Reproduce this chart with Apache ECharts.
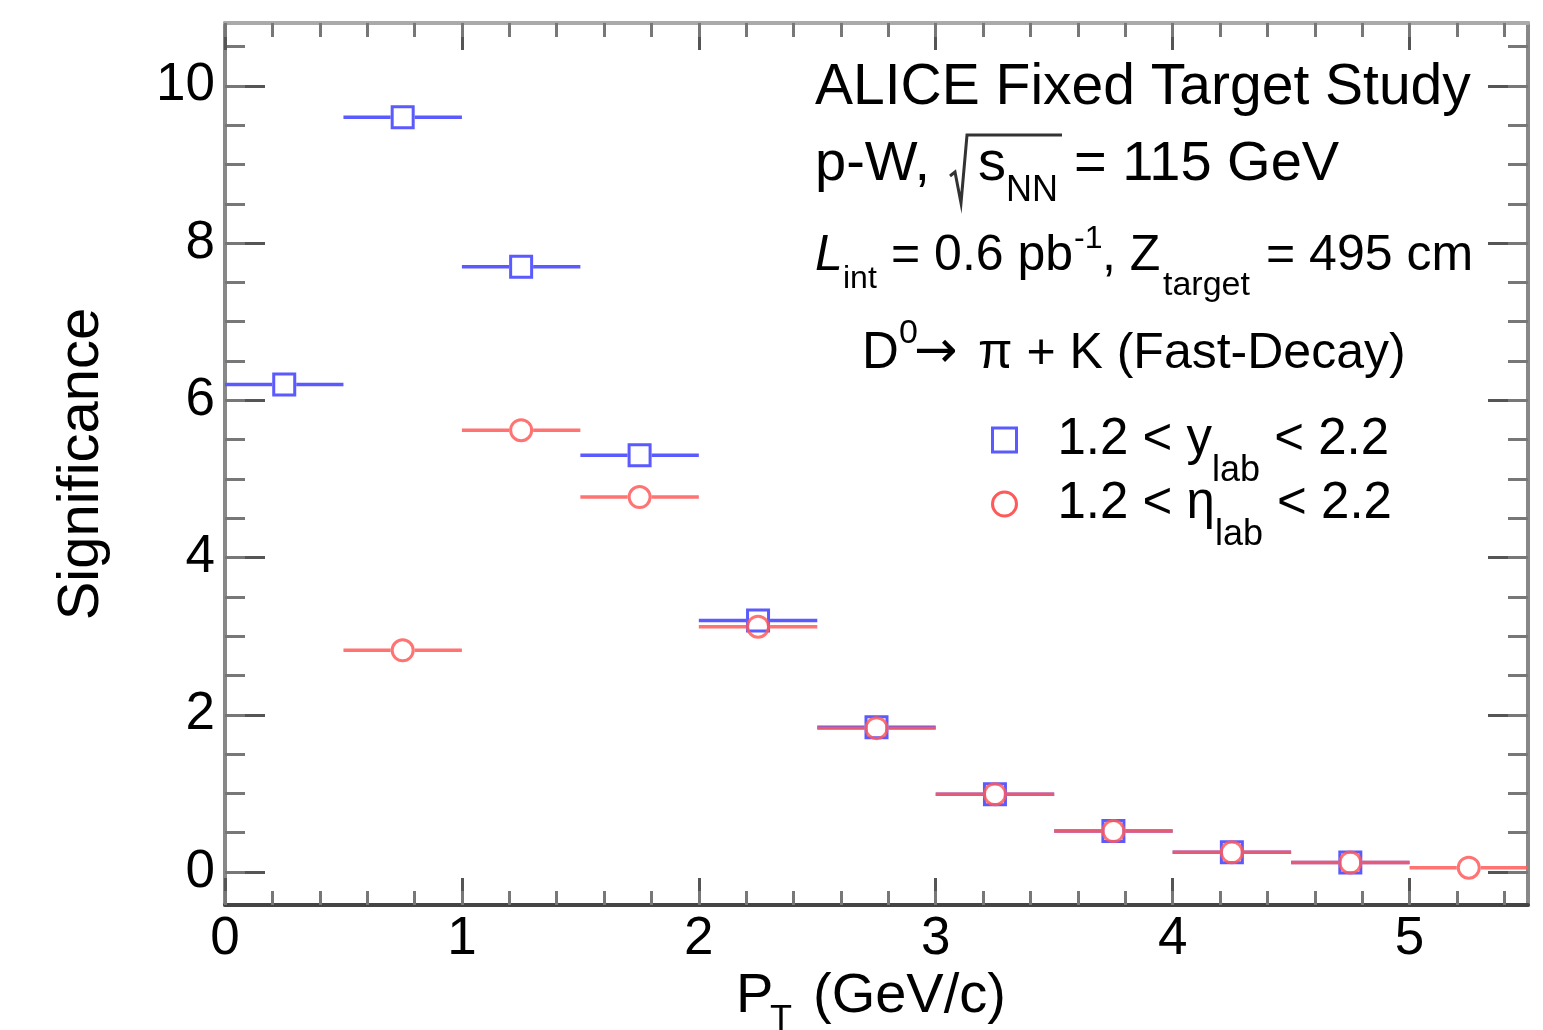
<!DOCTYPE html>
<html><head><meta charset="utf-8">
<script src="https://cdn.jsdelivr.net/npm/echarts@6/dist/echarts.min.js"></script>
<style>html,body{margin:0;padding:0;background:#fff}#c{width:1543px;height:1030px}</style>
</head><body><div id="c"></div>
<script>
// ---- data ----
const binEdges = [0, 0.5, 1, 1.5, 2, 2.5, 3, 3.5, 4, 4.5, 5, 5.5];
const sigYlab = [6.20, 9.60, 7.70, 5.30, 3.20, 1.84, 0.99, 0.52, 0.25, 0.12, null];
const sigEtalab = [null, 2.82, 5.62, 4.77, 3.12, 1.83, 0.99, 0.52, 0.25, 0.12, 0.055];
const xTickLabels = [0, 1, 2, 3, 4, 5];
const yTickLabels = [0, 2, 4, 6, 8, 10];
const xRange = [0, 5.5];
const yRange = [-0.42, 10.8];

const F = "'Liberation Sans', Arial, Helvetica, sans-serif";
const BLUE = '#5a5aff';
const RED = '#ff5a5a';

function minorVals(from, to, step) { const a = []; for (let i = 0; from + i * step <= to + 1e-9; i++) a.push(+(from + i * step).toFixed(4)); return a; }
const xMinor = minorVals(0, 5.4, 0.2);
const yMinor = minorVals(0, 10.5, 0.5);

function toBins(vals) {
  const out = [];
  vals.forEach((v, i) => { if (v != null) out.push([binEdges[i], binEdges[i + 1], v]); });
  return out;
}

function makeRender(color, shape, opacity) {
  return function (params, api) {
    const lo = api.value(0), hi = api.value(1), v = api.value(2);
    const a = api.coord([lo, v]), b = api.coord([hi, v]), c = api.coord([(lo + hi) / 2, v]);
    const r = 12;
    const ls = { stroke: color, lineWidth: 3.5, opacity: opacity };
    const kids = [
      { type: 'line', shape: { x1: a[0], y1: c[1], x2: c[0] - r, y2: c[1] }, style: ls },
      { type: 'line', shape: { x1: c[0] + r, y1: c[1], x2: b[0], y2: c[1] }, style: ls }
    ];
    if (shape === 'rect') {
      kids.push({ type: 'rect', shape: { x: c[0] - r + 1.5, y: c[1] - r + 1.5, width: 2 * r - 3, height: 2 * r - 3 },
        style: { fill: 'none', stroke: color, lineWidth: 3, opacity: opacity } });
    } else {
      kids.push({ type: 'circle', shape: { cx: c[0], cy: c[1], r: r - 1.5 },
        style: { fill: 'none', stroke: color, lineWidth: 3, opacity: opacity } });
    }
    return { type: 'group', children: kids };
  };
}

function xAx(pos, major) {
  return {
    type: 'value', position: pos, min: xRange[0], max: xRange[1],
    axisLine: { show: major, onZero: false, lineStyle: { color: pos === 'bottom' ? '#444' : '#aaa', width: 4 } },
    axisTick: { show: true, inside: true, length: major ? 27 : 14, customValues: major ? xTickLabels : xMinor,
      lineStyle: { color: major ? '#555' : '#777', width: 3 } },
    axisLabel: { show: major && pos === 'bottom', customValues: xTickLabels, margin: 8, fontSize: 53, color: '#000', fontFamily: F,
      formatter: v => String(v) },
    splitLine: { show: false }
  };
}
function yAx(pos, major) {
  const o = {
    type: 'value', position: pos, min: yRange[0], max: yRange[1],
    axisLine: { show: major, onZero: false, lineStyle: { color: '#888', width: 4 } },
    axisTick: { show: true, inside: true, length: major ? 40 : 20, customValues: major ? yTickLabels : yMinor,
      lineStyle: { color: major ? '#555' : '#777', width: 3 } },
    axisLabel: { show: major && pos === 'left', customValues: yTickLabels, margin: 10, fontSize: 53, color: '#000', fontFamily: F,
      formatter: v => String(v) },
    splitLine: { show: false }
  };
  if (major && pos === 'left') {
    o.name = 'Significance';
    o.nameLocation = 'middle';
    o.nameGap = 114;
    o.nameTextStyle = { fontSize: 58, color: '#000', fontFamily: F };
  }
  return o;
}

function txt(s, x, base, fs, italic, fam) {
  return { type: 'text', x: x, y: base - 0.33 * fs, z: 100,
    style: { text: s, font: (italic ? 'italic ' : '') + fs + 'px ' + (fam || F), fill: '#000',
      textAlign: 'left', textVerticalAlign: 'middle', align: 'left', verticalAlign: 'middle' } };
}

const graphics = [
  txt('ALICE Fixed Target Study', 815, 107, 57),
  txt('p-W,', 815, 183, 56),
  { type: 'polyline', z: 100, shape: { points: [[950, 176], [955, 172], [961, 203], [967, 135], [1062, 135]] },
    style: { stroke: '#333', lineWidth: 3, fill: null } },
  txt('s', 978, 183, 56),
  txt('NN', 1006, 203, 36),
  txt('= 115 GeV', 1074, 183, 56),
  txt('L', 815, 273, 50, true),
  txt('int', 843, 290, 32),
  txt('= 0.6 pb', 891, 273, 50),
  txt('-1', 1074, 250, 32),
  txt(', Z', 1102, 273, 50),
  txt('target', 1163, 297, 34),
  txt('= 495 cm', 1266, 273, 50),
  txt('D', 862, 371, 51),
  txt('0', 899, 345, 34),
  txt('\u2192', 914, 371, 52, false, "'DejaVu Sans', sans-serif"),
  txt('\u03c0 + K (Fast-Decay)', 978, 371, 50),
  txt('P', 736, 1015, 56),
  txt('T', 770, 1033, 36),
  txt('(GeV/c)', 813, 1015, 56)
];

const chart = echarts.init(document.getElementById('c'), null, { renderer: 'canvas' });
chart.setOption({
  backgroundColor: '#fff',
  animation: false,
  grid: { left: 225, right: 15, top: 23, bottom: 125, containLabel: false, outerBoundsMode: 'none' },
  xAxis: [xAx('bottom', true), xAx('bottom', false), xAx('top', true), xAx('top', false)],
  yAxis: [yAx('left', true), yAx('left', false), yAx('right', true), yAx('right', false)],
  legend: {
    orient: 'vertical', left: 986, top: 386, itemWidth: 24, itemHeight: 24, itemGap: -34,
    selectedMode: false,
    data: [
      { name: 'ylab', icon: 'rect', itemStyle: { color: 'rgba(0,0,0,0)', borderColor: BLUE, borderWidth: 3 } },
      { name: 'etalab', icon: 'circle', itemStyle: { color: 'rgba(0,0,0,0)', borderColor: RED, borderWidth: 3 } }
    ],
    formatter: function (name) {
      return name === 'ylab' ? '{sp| }{n|1.2 < y}{s|lab}{n| < 2.2}' : '{sp| }{n|1.2 < \u03b7}{s|lab}{n| < 2.2}';
    },
    textStyle: {
      rich: {
        sp: { width: 36, fontSize: 52, lineHeight: 60, fontFamily: F },
        n: { fontSize: 51, lineHeight: 60, fontFamily: F, color: '#000' },
        s: { fontSize: 36, lineHeight: 60, fontFamily: F, color: '#000', padding: [62, 0, 0, 0] }
      }
    }
  },
  series: [
    { name: 'ylab', type: 'custom', xAxisIndex: 0, yAxisIndex: 0, itemStyle: { color: BLUE },
      renderItem: makeRender(BLUE, 'rect', 1), data: toBins(sigYlab), encode: { x: [0, 1], y: 2 }, z: 5 },
    { name: 'etalab', type: 'custom', xAxisIndex: 0, yAxisIndex: 0, itemStyle: { color: RED },
      renderItem: makeRender(RED, 'circle', 0.85), data: toBins(sigEtalab), encode: { x: [0, 1], y: 2 }, z: 6 }
  ],
  graphic: graphics
});
</script></body></html>
